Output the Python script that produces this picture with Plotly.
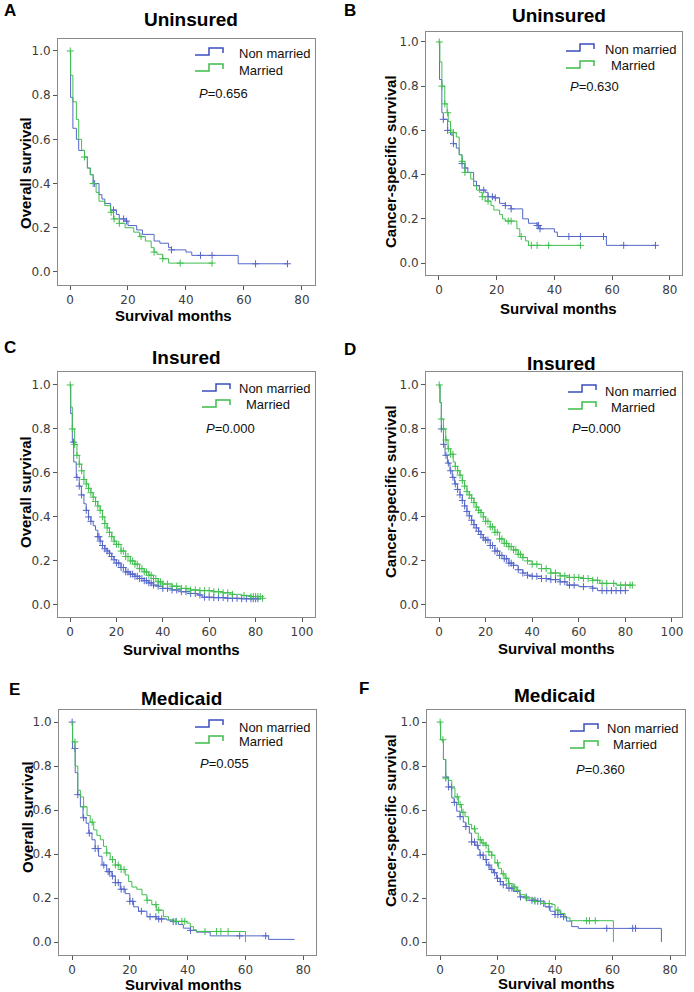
import numpy as np
import plotly.graph_objects as go

W, H = 694, 992
BLUE = "#5566c9"
GREEN = "#41bf50"
BLUE_LEG = "#3a4cbf"
GREEN_LEG = "#3dbd4a"

# ---------------- data (months, survival) ----------------
A_nm_t = [0, 0.2, 1, 2.2, 3, 5, 6, 7, 8, 10, 11, 12, 14, 16, 17, 19, 20, 23, 25, 29, 31, 34, 35, 40, 42, 58, 75]
A_nm_s = [1.0, 0.79, 0.65, 0.60, 0.55, 0.52, 0.47, 0.44, 0.40, 0.35, 0.33, 0.31, 0.28, 0.26, 0.24, 0.23, 0.21, 0.19, 0.17, 0.14, 0.13, 0.11, 0.10, 0.09, 0.075, 0.037, 0.037]
A_nm_c = [8.5, 15, 18.5, 19.5, 35, 45, 49, 64, 75]
A_m_t = [0, 0.2, 1, 2.2, 3, 4, 5, 6, 7, 8, 9, 10, 12, 14, 15, 17, 19, 22, 24, 26, 28, 29, 30, 32, 34, 49]
A_m_s = [1.0, 0.89, 0.77, 0.69, 0.60, 0.55, 0.52, 0.47, 0.44, 0.40, 0.36, 0.32, 0.30, 0.27, 0.24, 0.22, 0.20, 0.18, 0.16, 0.14, 0.11, 0.09, 0.08, 0.06, 0.04, 0.04]
A_m_c = [0.1, 5, 8, 14.2, 15.2, 17, 24.5, 29, 32, 38, 49]

B_nm_t = [0, 0.2, 1, 1.5, 3, 4, 5, 6, 7, 8, 9, 10, 12, 13, 14, 16, 17, 19, 21, 23, 25, 29, 31, 34, 35, 40, 41, 58, 75]
B_nm_s = [1.0, 0.83, 0.68, 0.65, 0.60, 0.58, 0.54, 0.52, 0.49, 0.45, 0.43, 0.41, 0.37, 0.35, 0.33, 0.32, 0.30, 0.295, 0.27, 0.26, 0.245, 0.20, 0.18, 0.17, 0.155, 0.14, 0.12, 0.08, 0.08]
B_nm_c = [1.5, 3, 5, 8, 9, 13, 15.5, 17, 18.5, 19.5, 23, 25, 34, 34.5, 35, 45, 49, 57, 64, 75]
B_m_t = [0, 0.3, 1, 2, 2.8, 3.2, 4, 6, 7, 8, 9, 11, 12, 13, 14, 15, 16, 18, 19, 21, 22, 23, 27, 28, 30, 31, 49]
B_m_s = [1.0, 0.91, 0.80, 0.72, 0.68, 0.64, 0.59, 0.57, 0.49, 0.46, 0.41, 0.38, 0.35, 0.33, 0.32, 0.30, 0.28, 0.26, 0.24, 0.22, 0.20, 0.19, 0.155, 0.12, 0.10, 0.08, 0.08]
B_m_c = [0.1, 1, 2, 3, 4.5, 5, 8, 9, 15, 17, 24, 25, 28.5, 32, 34, 38, 49]

C_nm_t = [0, 0.3, 1, 1.6, 2.7, 4, 4.9, 6, 7, 8, 9, 10, 11, 12, 13, 14, 15, 16, 17, 18, 19, 20, 22, 24, 26, 28, 30, 32, 34, 36, 38, 40, 44, 48, 52, 55, 57, 62, 68, 74, 82]
C_nm_s = [1.0, 0.87, 0.74, 0.65, 0.58, 0.54, 0.50, 0.46, 0.43, 0.40, 0.38, 0.36, 0.34, 0.31, 0.29, 0.27, 0.255, 0.245, 0.235, 0.22, 0.205, 0.19, 0.17, 0.15, 0.14, 0.13, 0.12, 0.11, 0.10, 0.09, 0.085, 0.075, 0.068, 0.06, 0.052, 0.045, 0.035, 0.033, 0.03, 0.028, 0.028]
C_nm_c = [1.5, 3, 4, 5, 7, 8, 9, 12, 12.5, 13, 14, 15, 16, 17, 18, 19, 20, 21, 22, 23, 24, 25, 26, 27, 28, 29, 30, 31, 32, 33, 34, 35, 36, 38, 40, 42, 44, 46, 48, 50, 52, 54, 56, 58, 60, 62, 64, 66, 68, 70, 72, 74, 76, 78, 79, 80, 81]
C_m_t = [0, 0.3, 1, 2, 3, 4, 5, 6, 7, 8, 9, 10, 11, 12, 13, 14, 15, 16, 17, 18, 19, 20, 22, 24, 26, 28, 30, 32, 34, 36, 38, 40, 44, 48, 52, 56, 62, 66, 70, 74, 78, 83]
C_m_s = [1.0, 0.90, 0.80, 0.73, 0.68, 0.64, 0.61, 0.57, 0.55, 0.53, 0.51, 0.49, 0.47, 0.45, 0.43, 0.40, 0.37, 0.35, 0.33, 0.31, 0.29, 0.275, 0.245, 0.22, 0.20, 0.185, 0.165, 0.15, 0.135, 0.12, 0.105, 0.095, 0.085, 0.075, 0.068, 0.065, 0.06, 0.055, 0.048, 0.043, 0.038, 0.03]
C_m_c = [0.1, 1, 2, 3, 4, 5, 6, 7, 8, 9, 10, 11, 12, 13, 14, 15, 16, 17, 18, 19, 20, 21, 22, 23, 24, 25, 26, 27, 28, 29, 30, 31, 32, 33, 34, 35, 36, 37, 38, 39, 40, 42, 44, 46, 48, 50, 52, 54, 56, 58, 60, 62, 64, 66, 68, 70, 75, 78, 79, 80, 81, 82, 83]

D_nm_t = [0, 0.4, 1, 1.9, 2.6, 3.6, 4.7, 5.7, 6.7, 7.9, 9, 10, 11, 12, 13, 14, 15, 16, 17, 18, 19, 20, 22, 24, 26, 28, 30, 32, 34, 36, 38, 40, 44, 48, 52, 55, 60, 66, 68, 80]
D_nm_s = [1.0, 0.92, 0.80, 0.73, 0.68, 0.645, 0.61, 0.58, 0.55, 0.525, 0.50, 0.475, 0.45, 0.425, 0.405, 0.385, 0.365, 0.35, 0.335, 0.32, 0.305, 0.295, 0.27, 0.245, 0.225, 0.21, 0.19, 0.18, 0.16, 0.145, 0.135, 0.13, 0.12, 0.115, 0.105, 0.09, 0.083, 0.076, 0.065, 0.065]
D_nm_c = [1, 2, 3, 4, 5, 6, 7, 8, 9, 10, 11, 12, 13, 14, 15, 16, 17, 18, 19, 20, 21, 22, 23, 24, 25, 26, 27, 28, 29, 30, 31, 32, 34, 36, 38, 40, 42, 44, 46, 48, 50, 52, 54, 56, 58, 62, 66, 70, 72, 74, 76, 78, 80]
D_m_t = [0, 0.5, 1, 1.9, 2.9, 3.9, 5, 6.1, 7, 8, 9, 10, 11, 12, 13, 14, 15, 16, 17, 18, 19, 20, 22, 24, 26, 28, 30, 32, 34, 36, 38, 40, 44, 48, 52, 56, 62, 66, 69, 76, 83]
D_m_s = [1.0, 0.92, 0.845, 0.80, 0.75, 0.71, 0.685, 0.65, 0.63, 0.61, 0.59, 0.565, 0.54, 0.515, 0.50, 0.485, 0.465, 0.445, 0.43, 0.42, 0.40, 0.38, 0.355, 0.33, 0.30, 0.28, 0.265, 0.25, 0.23, 0.215, 0.20, 0.185, 0.165, 0.145, 0.132, 0.125, 0.12, 0.112, 0.098, 0.09, 0.09]
D_m_c = [0.1, 1, 2, 3, 4, 5, 6, 7, 8, 9, 10, 11, 12, 13, 14, 15, 16, 17, 18, 19, 20, 21, 22, 23, 24, 25, 26, 27, 28, 29, 30, 31, 32, 33, 34, 35, 36, 38, 40, 42, 44, 46, 48, 50, 52, 54, 56, 58, 60, 62, 64, 66, 68, 70, 72, 75, 78, 80, 82, 83]

E_nm_t = [0, 0.2, 1.1, 2, 2.9, 3.8, 4.9, 5.8, 6.9, 8, 9.2, 10.4, 12, 13.8, 15, 16.7, 18.4, 20, 21.3, 23, 25.9, 29.3, 32.8, 35, 36.8, 38.5, 40.9, 43, 47.8, 68, 77]
E_nm_s = [1.0, 0.88, 0.77, 0.67, 0.615, 0.565, 0.54, 0.495, 0.465, 0.425, 0.39, 0.35, 0.32, 0.30, 0.27, 0.24, 0.22, 0.185, 0.16, 0.14, 0.115, 0.105, 0.10, 0.093, 0.08, 0.063, 0.053, 0.045, 0.028, 0.012, 0.012]
E_nm_c = [0.05, 1, 2, 4, 6, 8, 9, 11, 12.5, 13, 14, 15, 16, 17, 18, 20, 21, 24, 27, 29, 30, 31, 35, 36, 41, 58, 67]
E_m_t = [0, 0.2, 1.1, 2, 2.9, 4, 5.2, 6.3, 7.5, 8.6, 9.8, 10.9, 12, 13.2, 15, 16.7, 18.4, 19.6, 20.7, 22.4, 24.2, 25.9, 27.6, 29.3, 31.6, 33.4, 35.7, 39.7, 40.9, 42, 43, 60]
E_m_s = [1.0, 0.91, 0.80, 0.69, 0.66, 0.615, 0.575, 0.545, 0.51, 0.485, 0.465, 0.435, 0.405, 0.375, 0.35, 0.33, 0.305, 0.275, 0.25, 0.24, 0.215, 0.19, 0.17, 0.145, 0.115, 0.10, 0.094, 0.086, 0.07, 0.056, 0.048, 0.0]
E_m_c = [1, 4, 7, 12, 14, 15, 16, 17, 18, 26, 29, 30, 36, 38, 39, 46, 50, 51.5, 54]

F_nm_t = [0, 0.2, 1.2, 2, 2.9, 4.1, 4.9, 5.8, 7, 8.1, 9, 10.2, 11, 12.2, 13.3, 13.9, 15.1, 16.2, 17.4, 18.6, 19.7, 20.9, 22, 23.2, 25.5, 27.8, 30.1, 33.6, 36.5, 38.3, 40, 42.9, 44, 45.8, 48.1, 77]
F_nm_s = [1.0, 0.92, 0.83, 0.75, 0.705, 0.655, 0.635, 0.595, 0.57, 0.545, 0.525, 0.495, 0.455, 0.44, 0.42, 0.395, 0.375, 0.35, 0.33, 0.315, 0.29, 0.275, 0.26, 0.245, 0.23, 0.205, 0.19, 0.185, 0.16, 0.14, 0.125, 0.115, 0.095, 0.07, 0.062, 0.0]
F_nm_c = [2, 3, 4, 5, 7, 9, 11, 12, 13, 14, 15, 16, 17, 18, 19, 20, 21, 22, 24, 25, 28, 30, 32, 33, 34, 35, 38, 40, 41, 42, 43, 58, 67, 68]
F_m_t = [0, 0.2, 1.2, 2, 2.9, 4.1, 5.2, 6.4, 7.5, 8.7, 9.9, 11, 12.2, 13.3, 14.5, 15.7, 16.8, 18, 19.1, 20.3, 21.4, 22.6, 23.8, 25.5, 26.7, 27.8, 29.6, 32.5, 35.9, 38.8, 40, 41.7, 43.5, 45.2, 60.3]
F_m_s = [1.0, 0.92, 0.83, 0.745, 0.735, 0.70, 0.66, 0.625, 0.59, 0.57, 0.535, 0.515, 0.495, 0.465, 0.45, 0.44, 0.41, 0.395, 0.36, 0.335, 0.31, 0.29, 0.265, 0.25, 0.235, 0.215, 0.20, 0.185, 0.175, 0.17, 0.145, 0.13, 0.11, 0.097, 0.0]
F_m_c = [0.05, 1, 2, 6, 7, 8, 12, 14, 15, 16, 17, 18, 20, 22, 23, 24, 26, 27, 30, 33, 36, 38, 41, 51, 52, 54]

labels = ["A", "B", "C", "D", "E", "F"]
titles = ["Uninsured", "Uninsured", "Insured", "Insured", "Medicaid", "Medicaid"]
ylabels = ["Overall survival", "Cancer-specific survival"] * 3
pvalues = ["0.656", "0.630", "0.000", "0.000", "0.055", "0.360"]
series_names = ["Non married", "Married"]
xticks_80 = [0, 20, 40, 60, 80]
xticks_100 = [0, 20, 40, 60, 80, 100]
yticks = [0.0, 0.2, 0.4, 0.6, 0.8, 1.0]

data = {
    "A": [(A_nm_t, A_nm_s, A_nm_c), (A_m_t, A_m_s, A_m_c)],
    "B": [(B_nm_t, B_nm_s, B_nm_c), (B_m_t, B_m_s, B_m_c)],
    "C": [(C_nm_t, C_nm_s, C_nm_c), (C_m_t, C_m_s, C_m_c)],
    "D": [(D_nm_t, D_nm_s, D_nm_c), (D_m_t, D_m_s, D_m_c)],
    "E": [(E_nm_t, E_nm_s, E_nm_c), (E_m_t, E_m_s, E_m_c)],
    "F": [(F_nm_t, F_nm_s, F_nm_c), (F_m_t, F_m_s, F_m_c)],
}

# ---------------- layout (pixels) ----------------
layout_px = {
    "A": dict(frame=(58, 315, 39, 285), xr=[-4.14, 84.5], yr=[-0.059, 1.054], xt=xticks_80,
              letter=(2, 10), title=(191, 20), ylab=(25, 173), xlab=(173, 315),
              gx=195, gyb=55, gyg=71, tnm=(237, 53), tm=(237, 70), p=(197, 94)),
    "B": dict(frame=(426, 682, 32, 275), xr=[-4.5, 84.2], yr=[-0.054, 1.045], xt=xticks_80,
              letter=(342, 10), title=(559, 15), ylab=(390, 162), xlab=(558, 308),
              gx=566, gyb=51, gyg=68, tnm=(603, 49), tm=(609, 65), p=(568, 87)),
    "C": dict(frame=(58, 315, 372, 617), xr=[-5.17, 105.6], yr=[-0.055, 1.059], xt=xticks_100,
              letter=(2, 347), title=(186, 358), ylab=(25, 492), xlab=(181, 649),
              gx=202, gyb=391, gyg=407, tnm=(237, 388), tm=(244, 404), p=(204, 429)),
    "D": dict(frame=(426, 682, 372, 617), xr=[-5.58, 104.3], yr=[-0.055, 1.059], xt=xticks_100,
              letter=(342, 349), title=(561, 363), ylab=(390, 492), xlab=(556, 648),
              gx=568, gyb=392, gyg=409, tnm=(603, 391), tm=(609, 407), p=(570, 429)),
    "E": dict(frame=(59, 316, 710, 955), xr=[-4.5, 84.4], yr=[-0.059, 1.055], xt=xticks_80,
              letter=(7, 689), title=(181, 698), ylab=(27, 817), xlab=(183, 984),
              gx=195, gyb=727, gyg=743, tnm=(237, 727), tm=(237, 741), p=(198, 763)),
    "F": dict(frame=(427, 685, 710, 955), xr=[-4.52, 85.2], yr=[-0.059, 1.055], xt=xticks_80,
              letter=(357, 688), title=(554, 695), ylab=(390, 821), xlab=(556, 983),
              gx=570, gyb=731, gyg=748, tnm=(605, 728), tm=(611, 744), p=(574, 769)),
}


def px(x):
    return x / W


def py(y):
    return 1 - y / H


fig = go.Figure()
annotations = []
shapes = []
FONT = "Liberation Sans, Arial, sans-serif"

for i, key in enumerate(labels):
    L = layout_px[key]
    n = i + 1
    xa = "x" if n == 1 else f"x{n}"
    ya = "y" if n == 1 else f"y{n}"
    x0, x1, y0, y1 = L["frame"]
    axis_common = dict(showline=True, mirror=True, linecolor="#8a8a8a", linewidth=1,
                       ticks="outside", ticklen=4, tickcolor="#555555", tickwidth=1,
                       showgrid=False, zeroline=False,
                       tickfont=dict(family="DejaVu Sans", size=12, color="#3c3c3c"))
    fig.update_layout(**{
        ("xaxis" if n == 1 else f"xaxis{n}"): dict(domain=[px(x0), px(x1)], range=L["xr"],
                                                   anchor=ya, tickvals=L["xt"], **axis_common),
        ("yaxis" if n == 1 else f"yaxis{n}"): dict(domain=[py(y1), py(y0)], range=L["yr"],
                                                   anchor=xa, tickvals=yticks, tickformat=".1f",
                                                   **axis_common),
    })
    for (t, s, c), color in zip(data[key], [BLUE, GREEN]):
        fig.add_trace(go.Scatter(x=t, y=s, mode="lines", line=dict(color=color, width=1, shape="hv"),
                                 xaxis=xa, yaxis=ya, showlegend=False, hoverinfo="skip"))
        ta = np.array(t)
        sa = np.array(s)
        idx = np.searchsorted(ta, np.array(c), side="right") - 1
        fig.add_trace(go.Scatter(x=c, y=sa[idx], mode="markers",
                                 marker=dict(symbol="cross-thin", size=5, color=color,
                                             line=dict(color=color, width=1)),
                                 xaxis=xa, yaxis=ya, showlegend=False, hoverinfo="skip"))

    annotations.append(dict(text=f"<b>{key}</b>", x=px(L["letter"][0]), y=py(L["letter"][1]),
                            xref="paper", yref="paper", xanchor="left", yanchor="middle",
                            showarrow=False, font=dict(family=FONT, size=17, color="#000")))
    annotations.append(dict(text=f"<b>{titles[i]}</b>", x=px(L["title"][0]), y=py(L["title"][1]),
                            xref="paper", yref="paper", xanchor="center", yanchor="middle",
                            showarrow=False, font=dict(family=FONT, size=19, color="#000")))
    annotations.append(dict(text=f"<b>{ylabels[i]}</b>", x=px(L["ylab"][0]), y=py(L["ylab"][1]),
                            xref="paper", yref="paper", xanchor="center", yanchor="middle",
                            textangle=-90, showarrow=False,
                            font=dict(family=FONT, size=15, color="#000")))
    annotations.append(dict(text="<b>Survival months</b>", x=px(L["xlab"][0]), y=py(L["xlab"][1]),
                            xref="paper", yref="paper", xanchor="center", yanchor="middle",
                            showarrow=False, font=dict(family=FONT, size=15, color="#000")))
    for (tx, ty), name in zip([L["tnm"], L["tm"]], series_names):
        annotations.append(dict(text=name, x=px(tx), y=py(ty), xref="paper", yref="paper",
                                xanchor="left", yanchor="middle", showarrow=False,
                                font=dict(family=FONT, size=13, color="#111")))
    for gy, color in [(L["gyb"], BLUE_LEG), (L["gyg"], GREEN_LEG)]:
        gx = L["gx"]
        path = (f"M {px(gx)} {py(gy)} L {px(gx + 14)} {py(gy)} L {px(gx + 14)} {py(gy - 7)} "
                f"L {px(gx + 28)} {py(gy - 7)} L {px(gx + 28)} {py(gy - 2)}")
        shapes.append(dict(type="path", path=path, xref="paper", yref="paper",
                           line=dict(color=color, width=1.5)))
    annotations.append(dict(text=f"<i>P</i>={pvalues[i]}", x=px(L["p"][0]), y=py(L["p"][1]),
                            xref="paper", yref="paper", xanchor="left", yanchor="middle",
                            showarrow=False, font=dict(family=FONT, size=13, color="#111")))

fig.update_layout(width=W, height=H, margin=dict(l=0, r=0, t=0, b=0),
                  paper_bgcolor="white", plot_bgcolor="white",
                  annotations=annotations, shapes=shapes, showlegend=False)

fig.write_html("out.html", config={"displayModeBar": False},
               post_script="document.body.style.margin='0';document.body.style.padding='0';")
